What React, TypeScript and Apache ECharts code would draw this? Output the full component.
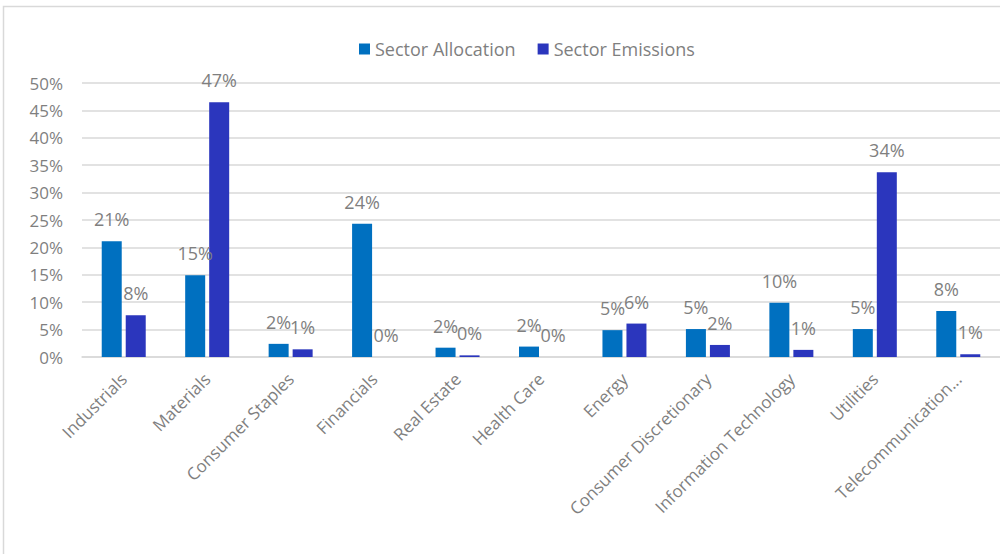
import React, { useEffect, useRef } from "react";
import * as echarts from "echarts";

const categories = [
  "Industrials",
  "Materials",
  "Consumer Staples",
  "Financials",
  "Real Estate",
  "Health Care",
  "Energy",
  "Consumer Discretionary",
  "Information Technology",
  "Utilities",
  "Telecommunication Services",
];
const sectorAllocation = [21.1, 14.9, 2.4, 24.3, 1.7, 1.9, 4.9, 5.1, 9.9, 5.1, 8.4];
const sectorEmissions = [7.6, 46.5, 1.4, 0.0, 0.3, 0.0, 6.1, 2.2, 1.3, 33.7, 0.5];
const yTicks = [0, 5, 10, 15, 20, 25, 30, 35, 40, 45, 50];

const FONT = "'Open Sans', sans-serif";
const GRAY = "#7f7f7f";

export default function App() {
  const ref = useRef<HTMLDivElement>(null);
  useEffect(() => {
    if (!ref.current) return;
    const chart = echarts.init(ref.current, undefined, { renderer: "svg" });
    const label = {
      show: true,
      position: "top" as const,
      distance: 13,
      color: GRAY,
      fontSize: 18,
      fontFamily: FONT,
      formatter: (p: any) => Math.round(p.value) + "%",
    };
    chart.setOption({
      animation: false,
      backgroundColor: "#ffffff",
      textStyle: { fontFamily: FONT },
      graphic: [
        {
          type: "rect",
          shape: { x: 3.5, y: 6.5, width: 1100, height: 700 },
          style: { fill: "none", stroke: "#d9d9d9", lineWidth: 1.5 },
          silent: true,
        },
      ],
      legend: {
        left: 354,
        top: 35,
        itemWidth: 11,
        itemHeight: 11,
        itemGap: 22,
        icon: "rect",
        textStyle: { color: GRAY, fontSize: 18, fontFamily: FONT },
        data: ["Sector Allocation", "Sector Emissions"],
      },
      grid: { left: 82, right: 0, top: 83, bottom: 197, containLabel: false },
      xAxis: {
        type: "category",
        data: categories,
        axisLine: { show: true, lineStyle: { color: "#d9d9d9", width: 1.5 } },
        axisTick: { show: false },
        axisLabel: {
          rotate: 45,
          interval: 0,
          margin: 19,
          color: GRAY,
          fontSize: 17,
          fontFamily: FONT,
          formatter: (v: string) => (v.length > 23 ? v.slice(0, 17) + "..." : v),
        },
      },
      yAxis: {
        type: "value",
        min: yTicks[0],
        max: yTicks[yTicks.length - 1],
        interval: 5,
        axisLine: { show: false },
        axisTick: { show: false },
        splitLine: { lineStyle: { color: "#d9d9d9", width: 1.5 } },
        axisLabel: {
          margin: 19,
          color: GRAY,
          fontSize: 17,
          fontFamily: FONT,
          formatter: (v: number) => v + "%",
        },
      },
      series: [
        {
          name: "Sector Allocation",
          type: "bar",
          data: sectorAllocation,
          barWidth: 20,
          barGap: "20%",
          itemStyle: { color: "#0070c0" },
          label,
        },
        {
          name: "Sector Emissions",
          type: "bar",
          data: sectorEmissions,
          barWidth: 20,
          barGap: "20%",
          itemStyle: { color: "#2b36bd" },
          label,
        },
      ],
    });
    return () => chart.dispose();
  }, []);
  return (
    <div
      ref={ref}
      style={{ position: "fixed", left: 0, top: 0, width: 1000, height: 554 }}
    />
  );
}
